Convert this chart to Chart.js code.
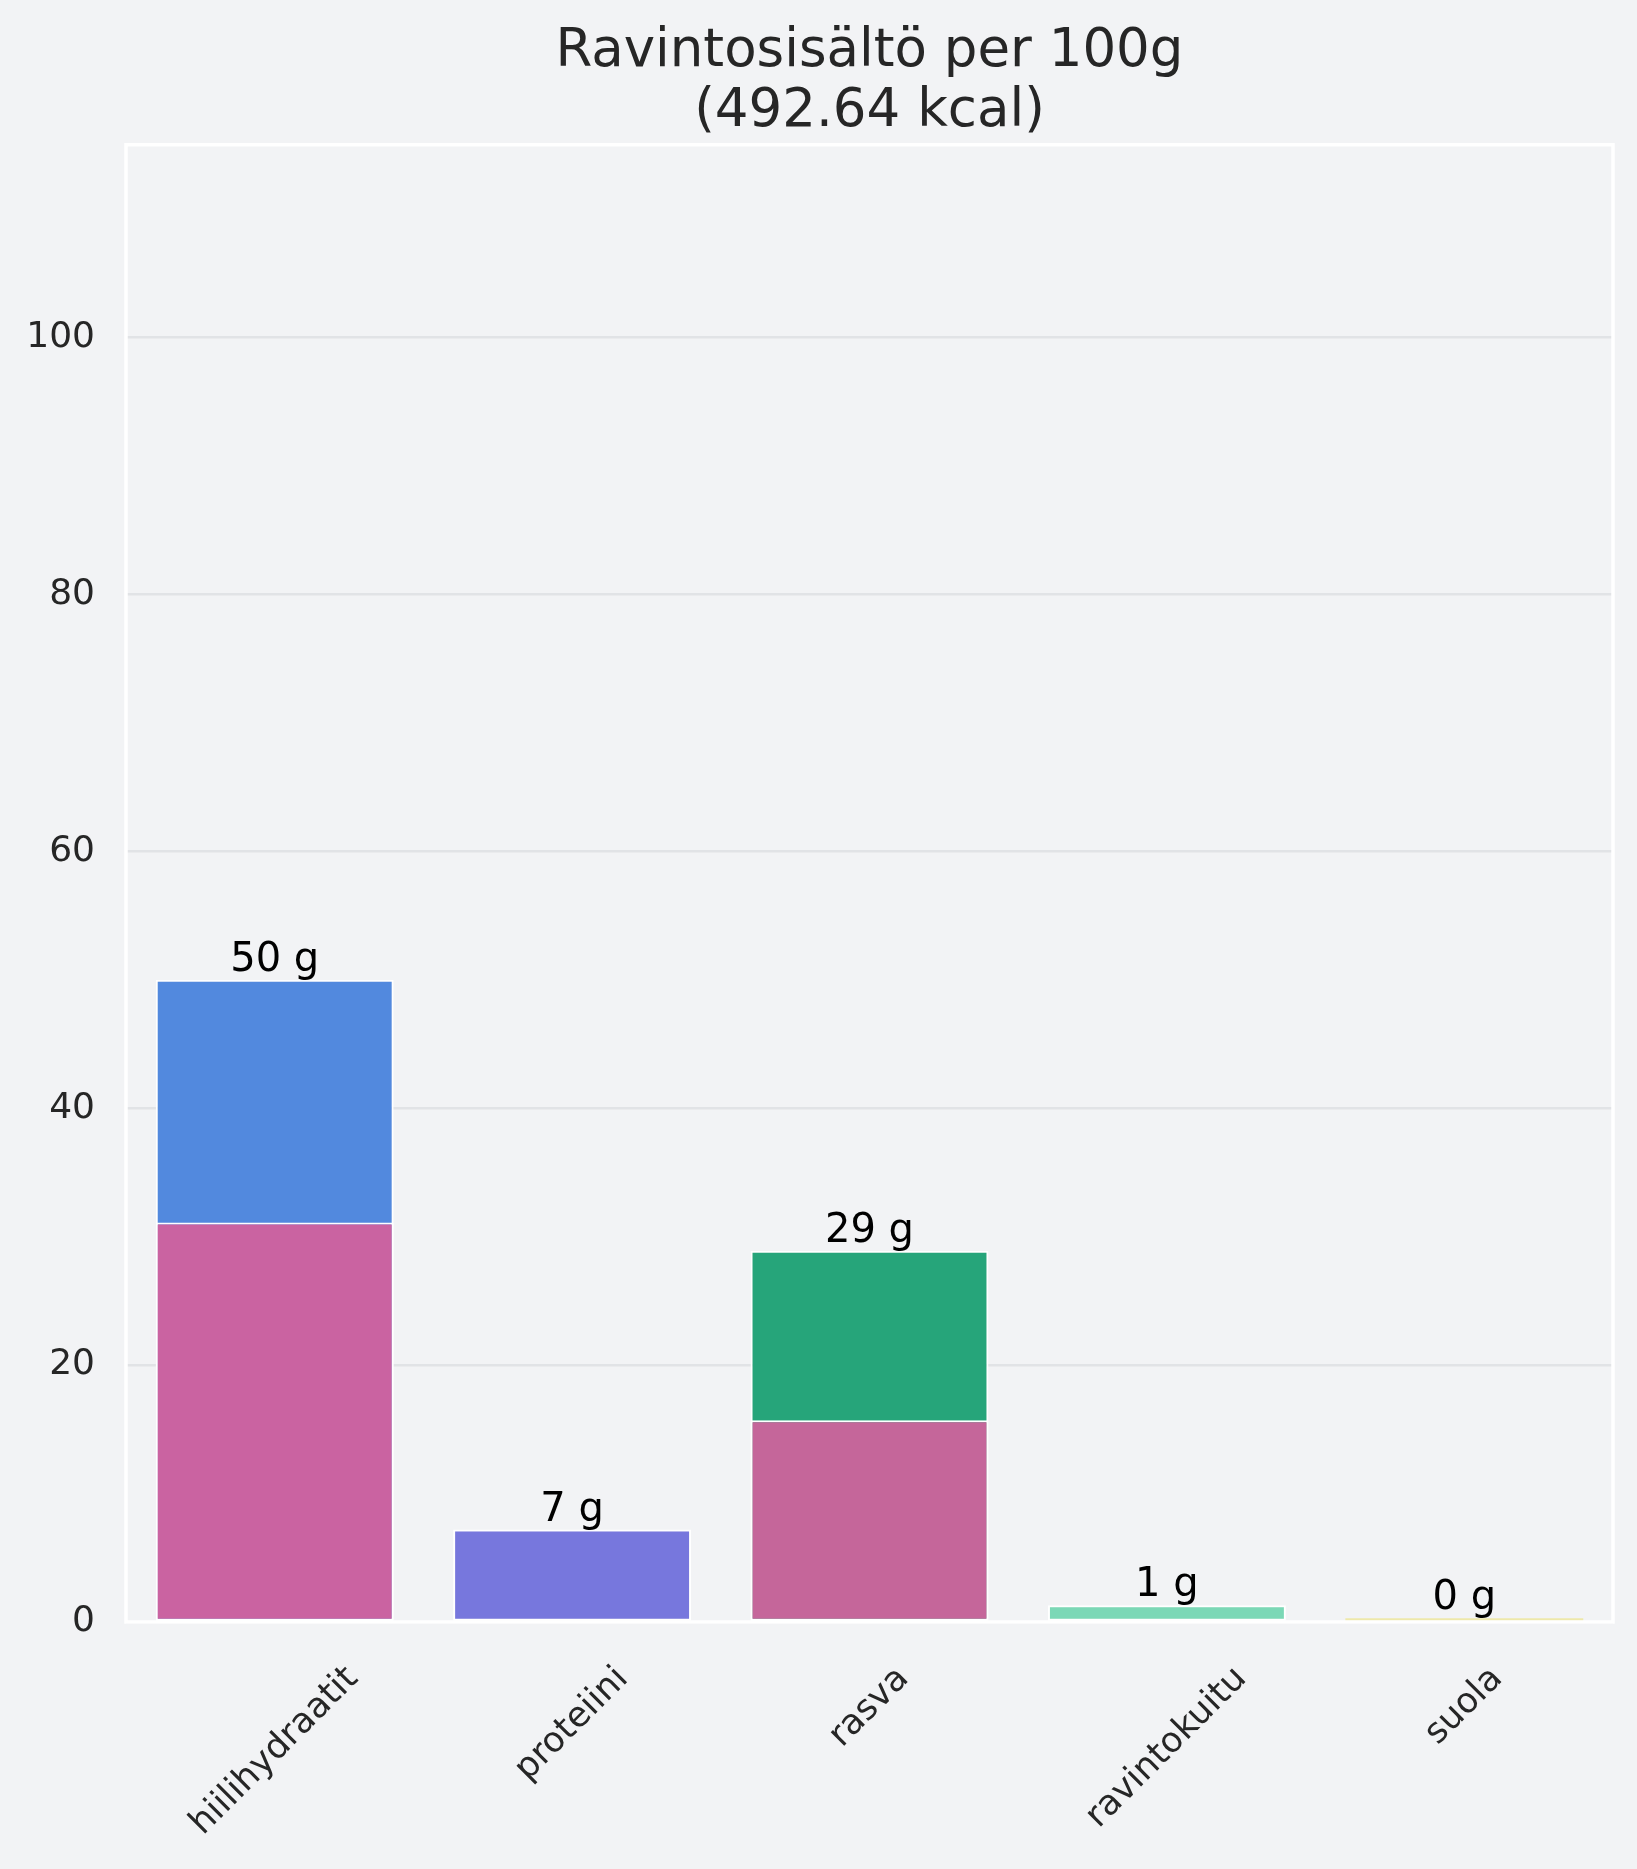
<!DOCTYPE html>
<html>
<head>
<meta charset="utf-8">
<title>Ravintosisältö per 100g</title>
<script src="https://cdn.jsdelivr.net/npm/chart.js@4.4.0/dist/chart.umd.min.js"></script>
<style>
  html, body { margin: 0; padding: 0; background: #f2f3f5; }
  canvas { display: block; }
</style>
</head>
<body>
<canvas id="chart" width="1637" height="1869"></canvas>
<script>
// Nutrients per 100 g
const categories = ['hiilihydraatit', 'proteiini', 'rasva', 'ravintokuitu', 'suola'];
const totals = [50, 7.2, 28.9, 1.3, 0.3];          // grams, full bar
const ofWhich = [31.1, null, 15.7, null, null];     // sugars / saturated fat (lower part)
const yTicks = [0, 20, 40, 60, 80, 100];
const titleLines = ['Ravintosisältö per 100g', '(492.64 kcal)'];

const totalColors = ['#5289de', '#7777dd', '#26a57a', '#7bd8b6', '#eee8aa'];
const ofWhichColors = ['#ca63a1', '#ca63a1', '#c5669a', '#c5669a', '#c5669a'];
const totalBorders = [2, 2, 2, 2, 0];

Chart.defaults.font.family = '"DejaVu Sans", sans-serif';

// Fill the whole canvas with the light grey background
const background = {
  id: 'background',
  beforeDraw(chart) {
    const ctx = chart.ctx;
    ctx.save();
    ctx.fillStyle = '#f2f3f5';
    ctx.fillRect(0, 0, chart.width, chart.height);
    ctx.restore();
  }
};

// White frame, gram labels on top of bars, rotated category labels
const frameAndLabels = {
  id: 'frameAndLabels',
  afterDatasetsDraw(chart) {
    const ctx = chart.ctx;
    const area = chart.chartArea;
    const xScale = chart.scales.x;
    ctx.save();

    ctx.strokeStyle = '#ffffff';
    ctx.lineWidth = 3.5;
    ctx.strokeRect(area.left, area.top, area.right - area.left, area.bottom - area.top);

    ctx.fillStyle = '#000000';
    ctx.font = '40px "DejaVu Sans"';
    ctx.textAlign = 'center';
    ctx.textBaseline = 'alphabetic';
    chart.getDatasetMeta(1).data.forEach((bar, i) => {
      ctx.fillText(Math.round(totals[i]) + ' g', bar.x, bar.y - 9);
    });

    ctx.fillStyle = '#262626';
    ctx.font = '35px "DejaVu Sans"';
    ctx.textBaseline = 'middle';
    categories.forEach((label, i) => {
      const w = ctx.measureText(label).width;
      const half = (w + 35 * 1.164) * Math.SQRT1_2 / 2; // half of the rotated box height
      ctx.save();
      ctx.translate(xScale.getPixelForValue(i), area.bottom + 37 + half);
      ctx.rotate(-Math.PI / 4);
      ctx.fillText(label, 0, 0);
      ctx.restore();
    });

    ctx.restore();
  }
};

const ctx = document.getElementById('chart').getContext('2d');
new Chart(ctx, {
  type: 'bar',
  data: {
    labels: categories,
    datasets: [
      {
        // drawn last, so it sits over the total bar
        label: 'josta',
        data: ofWhich,
        backgroundColor: ofWhichColors,
        borderColor: '#ffffff',
        borderWidth: 2,
        borderSkipped: false
      },
      {
        label: 'yhteensä',
        data: totals,
        backgroundColor: totalColors,
        borderColor: '#ffffff',
        borderWidth: totalBorders,
        borderSkipped: false
      }
    ]
  },
  options: {
    responsive: false,
    animation: false,
    categoryPercentage: 1.0,
    barPercentage: 0.8,
    layout: { padding: { left: 0, right: 24, top: 0, bottom: 0 } },
    plugins: {
      legend: { display: false },
      tooltip: { enabled: false },
      title: {
        display: true,
        fullSize: false, // centre the title over the plot area
        text: titleLines,
        color: '#262626',
        font: { size: 53, weight: 'normal', lineHeight: 1.12 },
        padding: { top: 23, bottom: 3 }
      }
    },
    scales: {
      x: {
        stacked: true, // both datasets share one slot, they overlap
        grid: { display: false },
        border: { display: false },
        ticks: { display: false },
        afterFit: s => { s.height = 247; }
      },
      y: {
        min: 0,
        max: 115,
        grid: { color: '#e1e3e6', lineWidth: 2.5, drawTicks: false },
        border: { display: false },
        ticks: { color: '#262626', font: { size: 36 }, padding: 31 },
        afterBuildTicks: s => { s.ticks = yTicks.map(v => ({ value: v })); },
        afterFit: s => { s.width = 126; }
      }
    }
  },
  plugins: [background, frameAndLabels]
});
</script>
</body>
</html>
